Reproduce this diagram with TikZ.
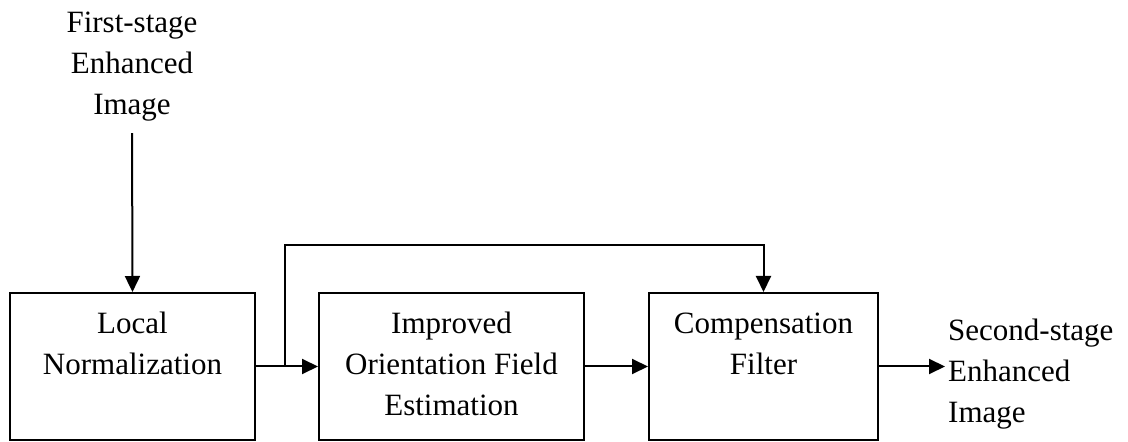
\documentclass[tikz,border=0pt]{standalone}
\usepackage{fontspec}
\setmainfont{Liberation Serif}
\usetikzlibrary{arrows.meta,calc}
\begin{document}
\begin{tikzpicture}[x=1pt,y=1pt,
  box/.style={draw=black, line width=2pt, minimum height=147pt, inner sep=0pt},
  txt/.style={inner sep=0pt, align=center, font=\fontsize{31}{41}\selectfont},
  arr/.style={line width=2pt, -{Triangle[length=16pt,width=15pt]}},
  ln/.style={line width=2pt}]
\useasboundingbox (0,0) rectangle (1128,442);
% boxes
\node[box, minimum width=245pt] (b1) at (132.5,75.5) {};
\node[box, minimum width=265pt] (b2) at (451.5,75.5) {};
\node[box, minimum width=229pt] (b3) at (763.5,75.5) {};
% box texts
\node[txt, anchor=north] (t1) at ([yshift=-12.3pt]b1.north) {\strut Local\\Normalization};
\node[txt, anchor=north] (t2) at ([yshift=-12.3pt]b2.north) {\strut Improved\\Orientation Field\\Estimation};
\node[txt, anchor=north] (t3) at ([yshift=-12.3pt]b3.north) {\strut Compensation\\Filter};
% input / output texts
\node[txt, anchor=north] (in) at (132,438.7) {\strut First-stage\\Enhanced\\Image};
\node[txt, anchor=north west, align=left] (out) at (948,130) {\strut Second-stage\\Enhanced\\Image};
% connectors
\draw[arr, shorten <=12pt] (in.south) -- (b1.north);
\draw[arr] (b1.east) -- (b2.west);
\draw[arr] (b2.east) -- (b3.west);
\draw[arr, shorten >=3pt] (b3.east) -- (b3.east -| out.west);
\coordinate (j) at (285,75.5);
\coordinate (t) at (285,197);
\draw[arr] (j) -- (t) -| (b3.north);
\end{tikzpicture}
\end{document}
